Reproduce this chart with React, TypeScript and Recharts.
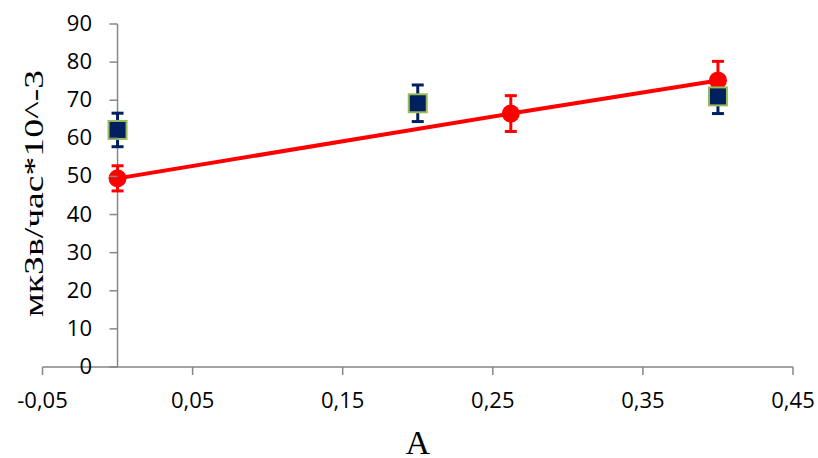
import React from "react";
import { ScatterChart, Scatter, XAxis, YAxis, ErrorBar, ReferenceLine, Label } from "recharts";

const xTicks = [-0.05, 0.05, 0.15, 0.25, 0.35, 0.45];
const yTicks = [0, 10, 20, 30, 40, 50, 60, 70, 80, 90];
const redX = [0, 0.262, 0.4];
const redY = [49.5, 66.5, 75.2];
const redErr = [3.3, 4.7, 5];
const blueX = [0, 0.2, 0.4];
const blueY = [62.2, 69.2, 71];
const blueErr = [4.4, 4.8, 4.5];

const redData = redX.map((x, i) => ({ x, y: redY[i], err: redErr[i] }));
const blueData = blueX.map((x, i) => ({ x, y: blueY[i], err: blueErr[i] }));

const W = 818;
const H = 458;
const Y_W = 1;
const M = { top: 24, right: 25, bottom: 31, left: 42.5 - Y_W };
const X_DOMAIN: [number, number] = [-0.05, 0.45];
const plotLeft = M.left + Y_W;
const plotW = W - plotLeft - M.right;
const AXIS_X = plotLeft + ((0 - X_DOMAIN[0]) / (X_DOMAIN[1] - X_DOMAIN[0])) * plotW;
const AXIS_COLOR = "#868686";
const TICK_FONT = "'Open Sans', Calibri, sans-serif";
const SERIF = "'Liberation Serif', 'Times New Roman', serif";

const fmt = (v: number) => String(Math.round(v * 100) / 100).replace(".", ",");

const YTick = (props: any) => {
  const { y, payload } = props;
  return (
    <g>
      <line x1={AXIS_X - 8} y1={y} x2={AXIS_X} y2={y} stroke={AXIS_COLOR} strokeWidth={1.5} />
      <text x={92} y={y} dy={7} textAnchor="end" style={{ fontFamily: TICK_FONT, fontSize: 22, fill: "#000" }}>
        {payload.value}
      </text>
    </g>
  );
};

const YTitle = (props: any) => {
  const vb = props.viewBox || {};
  const cy = (vb.y ?? M.top) + (vb.height ?? 0) / 2 - 2;
  const cx = 43;
  return (
    <text
      x={cx}
      y={cy}
      transform={`rotate(-90 ${cx} ${cy})`}
      textAnchor="middle"
      textLength={247}
      lengthAdjust="spacingAndGlyphs"
      style={{ fontFamily: SERIF, fontSize: 27, fill: "#000" }}
    >
      мкЗв/час*10^-3
    </text>
  );
};

const RedDot = (p: any) => <circle cx={p.cx} cy={p.cy} r={9} fill="#FF0000" />;
const BlueSquare = (p: any) => (
  <rect x={p.cx - 9} y={p.cy - 9} width={18} height={18} fill="#002060" stroke="#9BBB59" strokeWidth={2} />
);

export default function App() {
  return (
    <div style={{ position: "absolute", left: 0, top: 0, background: "#fff" }}>
      <ScatterChart width={W} height={H} margin={M}>
        <XAxis
          type="number"
          dataKey="x"
          domain={X_DOMAIN}
          ticks={xTicks}
          tickFormatter={fmt}
          interval={0}
          height={60}
          tickSize={8}
          tickMargin={17}
          axisLine={{ stroke: AXIS_COLOR, strokeWidth: 1.5 }}
          tickLine={{ stroke: AXIS_COLOR, strokeWidth: 1.5 }}
          tick={{ fontFamily: TICK_FONT, fontSize: 22, fill: "#000" }}
          allowDataOverflow
        >
          <Label
            value="A"
            position="bottom"
            offset={3}
            style={{ fontFamily: SERIF, fontSize: 34, fill: "#000" }}
          />
        </XAxis>
        <YAxis
          type="number"
          dataKey="y"
          domain={[0, 90]}
          ticks={yTicks}
          interval={0}
          width={Y_W}
          axisLine={false}
          tickLine={false}
          tick={(p: any) => <YTick {...p} />}
        >
          <Label content={(p: any) => <YTitle {...p} />} />
        </YAxis>
        <ReferenceLine x={0} stroke={AXIS_COLOR} strokeWidth={1.5} />
        <Scatter
          data={redData}
          fill="#FF0000"
          line={{ stroke: "#FF0000", strokeWidth: 4 }}
          lineType="joint"
          shape={RedDot}
          isAnimationActive={false}
        >
          <ErrorBar dataKey="err" direction="y" width={6} strokeWidth={3} stroke="#FF0000" />
        </Scatter>
        <Scatter data={blueData} fill="#002060" shape={BlueSquare} isAnimationActive={false}>
          <ErrorBar dataKey="err" direction="y" width={6} strokeWidth={3} stroke="#002060" />
        </Scatter>
      </ScatterChart>
    </div>
  );
}
